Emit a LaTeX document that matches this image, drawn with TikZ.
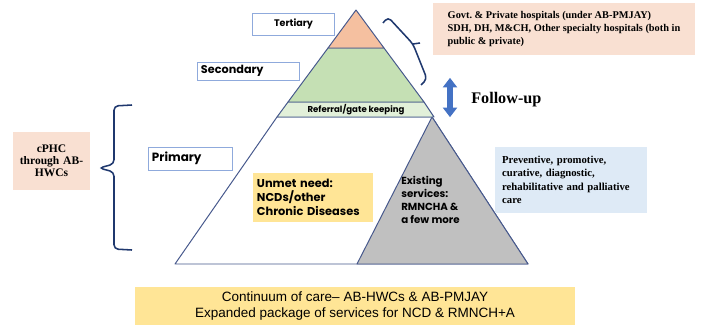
\documentclass[tikz,border=0pt]{standalone}
\usepackage{fontspec}
\setmainfont{Liberation Serif}
\setsansfont{Liberation Sans}
\newfontfamily\gothic{Poppins}
\usetikzlibrary{shapes.arrows}

\definecolor{edgeblue}{RGB}{70,88,140}
\definecolor{tertfill}{RGB}{245,192,160}
\definecolor{secfill}{RGB}{197,224,180}
\definecolor{reffill}{RGB}{226,240,217}
\definecolor{greyfill}{RGB}{192,192,192}
\definecolor{labeledge}{RGB}{143,170,220}
\definecolor{peach}{RGB}{249,224,210}
\definecolor{paleblue}{RGB}{222,234,246}
\definecolor{sand}{RGB}{255,229,150}
\definecolor{bracenavy}{RGB}{31,56,110}
\definecolor{arrowblue}{RGB}{68,114,196}

\begin{document}
\frenchspacing
\begin{tikzpicture}[x=0.025cm, y=-0.025cm]
    \tikzset{
        layer/.style={draw=edgeblue, line width=0.7pt, line join=round},
        level/.style={draw=labeledge, fill=white, line width=0.6pt,
        inner xsep=0.1cm, inner ysep=0pt, align=left,
        font=\gothic\bfseries\fontsize{8}{9}\selectfont},
        note/.style={fill=peach, inner sep=0pt, align=left,
        font=\bfseries\fontsize{7.6}{9.5}\selectfont},
        curly/.style={draw=bracenavy, line width=1.1pt, rounded corners=3pt}
    }
    \useasboundingbox (0,0) rectangle (702,329);

    % pyramid corners
    \coordinate (apex) at (356,10);
    \coordinate (tl) at (328,48);
    \coordinate (tr) at (384,48);
    \coordinate (sl) at (288,102);
    \coordinate (sr) at (424,102);
    \coordinate (rl) at (277,117);
    \coordinate (rr) at (434,117);
    \coordinate (gt) at (432,117);
    \coordinate (pl) at (175,264);
    \coordinate (gl) at (357,264);
    \coordinate (pr) at (528,264);

    % layers
    \filldraw[layer, fill=white] (rl) -- (pl) -- (pr) -- (gt) -- cycle;
    \filldraw[layer, fill=greyfill] (gt) -- (gl) -- (pr) -- cycle;
    \filldraw[layer, fill=reffill] (sl) -- (sr) -- (rr) -- (rl) -- cycle;
    \filldraw[layer, fill=secfill] (tl) -- (tr) -- (sr) -- (sl) -- cycle;
    \filldraw[layer, fill=tertfill] (apex) -- (tr) -- (tl) -- cycle;

    \node (referral) at (356,110)
        {\gothic\bfseries\fontsize{6.1}{7}\selectfont Referral/gate keeping};

    % level labels
    \node (tertiary) [level, align=center, text width=1.83cm,
        minimum height=0.55cm, font=\gothic\bfseries\fontsize{6.8}{9}\selectfont]
        at (293.5,24) {Tertiary};
    \node (secondary) [level, text width=2.35cm, minimum height=0.45cm]
        at (248,71) {Secondary};
    \node (primary) [level, text width=1.9cm, minimum height=0.575cm,
        font=\gothic\bfseries\fontsize{8.5}{9}\selectfont]
        at (190,158.5) {Primary};

    % primary content
    \node (unmet) [fill=sand, inner xsep=0.1cm, inner ysep=0pt, text width=2.8cm,
        minimum height=1.23cm, align=left,
        font=\gothic\bfseries\fontsize{8.1}{10}\selectfont]
        at (313,197.5) {Unmet need:\\NCDs/other\\Chronic Diseases};
    \node (existing) [anchor=north west, inner sep=0pt, align=left,
        font=\gothic\bfseries\fontsize{7.3}{9.3}\selectfont]
        at (401,176) {Existing\\services:\\RMNCHA \&\\a few more};

    % side notes
    \node (hospitals) [note, minimum width=6.55cm, minimum height=1.3cm,
        font=\bfseries\fontsize{7.35}{9.5}\selectfont] at (564,29)
        {Govt. \& Private hospitals (under AB-PMJAY)\\
         SDH, DH, M\&CH, Other specialty hospitals (both in\\
         public \& private)};
    \node (services) [note, fill=paleblue, inner xsep=0.18cm, text width=3.44cm,
        minimum height=1.65cm] at (571,180)
        {Preventive, promotive,\\curative, diagnostic,\\rehabilitative and palliative\\care};
    \node (cphc) [note, align=center, text width=1.93cm, minimum height=1.45cm,
        font=\bfseries\fontsize{8.2}{8.6}\selectfont] at (51.5,161)
        {cPHC\\through AB-\\HWCs};

    % follow-up
    \node (updown) [double arrow, fill=arrowblue, rotate=90, inner sep=1.8pt,
        minimum height=0.98cm, double arrow head extend=3.2pt,
        double arrow tip angle=75] at (450,97.5) {};
    \node (followup) [anchor=west, inner sep=0pt,
        font=\bfseries\fontsize{11.5}{12}\selectfont] at (471,100) {Follow-up};

    % braces
    \coordinate (upper tip) at (413,44);
    \draw[curly] (383,23) -- (388,17) -- (upper tip) -- (427,79) -- (421,85);
    \draw[curly] (upper tip) -- (420,43);
    \coordinate (side tip) at (99,168);
    \draw[curly] (132,105) -- (114,106) -- (114,164) -- (side tip)
        -- (114,172) -- (114,249) -- (132,250);

    % bottom banner
    \node (continuum) [fill=sand, align=center, inner sep=0pt,
        minimum width=11cm, minimum height=0.95cm,
        font=\sffamily\fontsize{9.6}{11.4}\selectfont] at (355,306)
        {Continuum of care-- AB-HWCs \& AB-PMJAY\\
         Expanded package of services for NCD \& RMNCH+A};
\end{tikzpicture}
\end{document}
